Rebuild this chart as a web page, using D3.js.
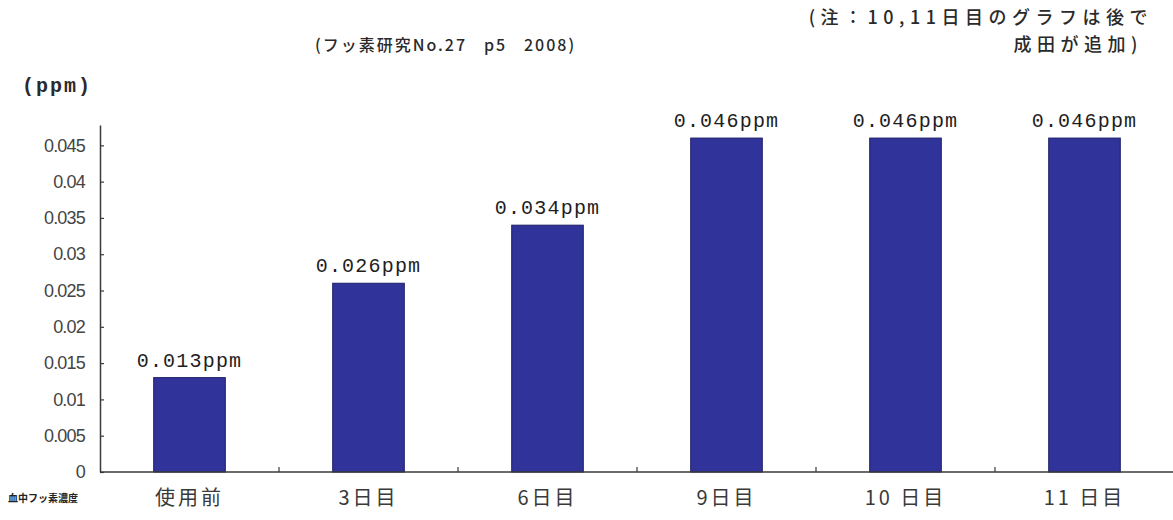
<!DOCTYPE html>
<html>
<head>
<meta charset="utf-8">
<script src="https://cdn.jsdelivr.net/npm/d3@7"></script>
<style>
  html, body { margin: 0; padding: 0; background: #fff; }
  svg { display: block; }
</style>
</head>
<body>
<svg id="chart" width="1173" height="520"></svg>
<script>
// Blood fluoride concentration over the days of use
const categories = ["使用前", "3日目", "6日目", "9日目", "10 日目", "11 日目"];
const values = [0.013, 0.026, 0.034, 0.046, 0.046, 0.046];
const valueLabels = ["0.013ppm", "0.026ppm", "0.034ppm", "0.046ppm", "0.046ppm", "0.046ppm"];
const yTicks = [0, 0.005, 0.01, 0.015, 0.02, 0.025, 0.03, 0.035, 0.04, 0.045];
const yTickLabels = ["0", "0.005", "0.01", "0.015", "0.02", "0.025", "0.03", "0.035", "0.04", "0.045"];

const svg = d3.select("#chart");
const W = 1173;
const plot = { left: 100, right: 1174, top: 125, bottom: 472 };

const x = d3.scaleBand().domain(categories).range([plot.left, plot.right]).padding(0);
const y = d3.scaleLinear().domain([0, 0.0478]).range([plot.bottom, plot.top]);

const axisColor = "#3a3a3a";
const barW = x.bandwidth() * 0.4;

// Bars
svg.append("g").selectAll("rect")
  .data(values)
  .join("rect")
  .attr("x", (d, i) => x(categories[i]) + (x.bandwidth() - barW) / 2)
  .attr("y", d => y(d))
  .attr("width", barW)
  .attr("height", d => y(0) - y(d))
  .attr("fill", "#30339a")
  .attr("stroke", "#1c1e66")
  .attr("stroke-width", 1);

// Y axis with inward ticks
const yAxis = d3.axisLeft(y)
  .tickValues(yTicks)
  .tickFormat((d, i) => yTickLabels[i])
  .tickSizeInner(-4)
  .tickSizeOuter(0)
  .tickPadding(15);

const gy = svg.append("g")
  .attr("transform", `translate(${plot.left},0)`)
  .call(yAxis);
gy.select(".domain").attr("stroke", axisColor).attr("stroke-width", 1.5);
gy.selectAll(".tick line").attr("stroke", axisColor).attr("stroke-width", 1.2);
gy.selectAll(".tick text")
  .attr("fill", "#444")
  .style("font-family", "'Liberation Sans', Arial, sans-serif")
  .style("font-size", "18px")
  .style("letter-spacing", "-0.8px");

// X axis: baseline with ticks at the category boundaries
const gx = svg.append("g");
gx.append("line")
  .attr("x1", plot.left).attr("x2", W)
  .attr("y1", y(0)).attr("y2", y(0))
  .attr("stroke", axisColor).attr("stroke-width", 1.5);
gx.selectAll("line.sep")
  .data(categories.slice(1))
  .join("line")
  .attr("class", "sep")
  .attr("x1", d => x(d)).attr("x2", d => x(d))
  .attr("y1", y(0)).attr("y2", y(0) - 5)
  .attr("stroke", axisColor).attr("stroke-width", 1.2);

// Category labels
svg.append("g").selectAll("text")
  .data(categories)
  .join("text")
  .attr("x", d => x(d) + x.bandwidth() / 2)
  .attr("y", 505)
  .attr("text-anchor", "middle")
  .attr("fill", "#3a3a3a")
  .style("font-family", "'Noto Sans CJK JP', sans-serif")
  .style("font-size", "20px")
  .style("letter-spacing", "3px")
  .text(d => d);

// Row label for the category axis
svg.append("text")
  .attr("x", 8).attr("y", 502)
  .attr("fill", "#222")
  .style("font-family", "'Noto Sans CJK JP', sans-serif")
  .style("font-size", "10px")
  .style("font-weight", "bold")
  .text("血中フッ素濃度");

// Value labels above the bars
svg.append("g").selectAll("text")
  .data(values)
  .join("text")
  .attr("x", (d, i) => x(categories[i]) + x.bandwidth() / 2)
  .attr("y", d => y(d) - 11)
  .attr("text-anchor", "middle")
  .attr("fill", "#1e1e1e")
  .style("font-family", "'Liberation Mono', 'DejaVu Sans Mono', monospace")
  .style("font-size", "20px")
  .style("letter-spacing", "1.2px")
  .text((d, i) => valueLabels[i]);

// Unit label
svg.append("text")
  .attr("x", 22).attr("y", 92)
  .attr("fill", "#2a2a2a")
  .style("font-family", "'Liberation Mono', 'DejaVu Sans Mono', monospace")
  .style("font-size", "20px")
  .style("font-weight", "bold")
  .style("letter-spacing", "2px")
  .text("(ppm)");

// Source
svg.append("text")
  .attr("x", 315).attr("y", 51)
  .attr("fill", "#2a2a2a")
  .style("font-family", "'Noto Sans CJK JP', sans-serif")
  .style("font-size", "16px")
  .style("font-weight", "500")
  .style("letter-spacing", "2px")
  .style("white-space", "pre")
  .text("(フッ素研究No.27   p5   2008)");

// Note, two lines
const noteStyle = sel => sel
  .attr("fill", "#2a2a2a")
  .style("font-family", "'Noto Sans CJK JP', sans-serif")
  .style("font-size", "18px")
  .style("font-weight", "500")
  .style("letter-spacing", "5.5px")
  .attr("text-anchor", "end");
svg.append("text").call(noteStyle).attr("x", 1153).attr("y", 24).text("(注：10,11日目のグラフは後で");
svg.append("text").call(noteStyle).attr("x", 1143).attr("y", 51).text("成田が追加)");
</script>
</body>
</html>
